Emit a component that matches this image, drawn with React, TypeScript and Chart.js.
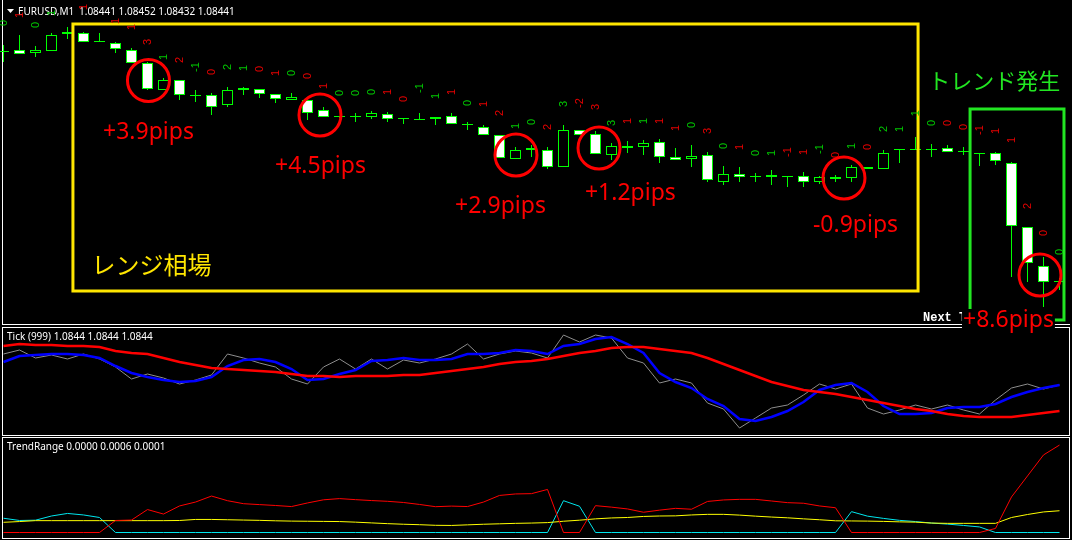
import React, { useEffect, useRef } from "react";
import { Chart, registerables } from "chart.js";

Chart.register(...registerables);

const W = 1072;
const H = 540;

// ---- main chart: EURUSD M1 candles, values in points above 1.08000 (1 point = 0.00001) ----
const BAR_INDEX = Array.from({ length: 67 }, (_, i) => i);
const OPEN = [556, 557, 555.5, 556.5, 565, 565.5, 561, 560.5, 557, 550.5, 537, 542, 534, 534.5, 529.5, 538, 537.5, 535, 532, 532, 527, 523.5, 523.5, 523.5, 525, 522.5, 522, 522.5, 524, 519.5, 518.5, 514.5, 502.5, 508, 507, 498.5, 517, 515, 504.5, 509, 508.5, 511, 503.5, 502.5, 504.5, 491, 495, 493.5, 493.5, 494, 494, 491, 493.5, 493, 498.5, 497.5, 507, 507, 507, 508, 506, 505, 505.5, 500.5, 468.5, 449, 441];
const HIGH = [559.5, 564.5, 559, 565.5, 568.5, 566, 565.5, 561, 558, 551, 543, 542, 537, 535.5, 538.5, 538.5, 537.5, 535, 535.5, 532, 528.5, 524, 525.5, 526.5, 526, 522.5, 525.5, 523.5, 525.5, 521, 519.5, 514.5, 508.5, 509.5, 508.5, 519.5, 517, 516.5, 510.5, 511.5, 512, 512.5, 508, 509.5, 506, 499, 498.5, 495.5, 497, 494, 496, 494, 494.5, 499.5, 498.5, 507, 507, 513.5, 510, 509.5, 508.5, 505, 506, 501, 468.5, 453.5, 443];
const LOW = [551, 555, 553.5, 556.5, 562.5, 561, 561, 555.5, 550.5, 537, 537, 532, 531, 524.5, 528.5, 534.5, 533, 530.5, 532, 522, 523.5, 523, 521, 522.5, 521, 520, 522, 519.5, 520, 517, 514.5, 503, 502.5, 503.5, 497.5, 498.5, 514.5, 505, 502, 505.5, 504.5, 500.5, 502, 498.5, 491, 489.5, 491, 491, 489.5, 488.5, 488.5, 490, 491, 491, 497.5, 497.5, 500.5, 507, 503.5, 506, 504.5, 499, 499.5, 443.5, 441, 428.5, 437];
const CLOSE = [556, 555, 557, 564.5, 566, 561, 561, 557.5, 550.5, 537.5, 542, 534.5, 534, 528.5, 537, 537, 535, 532.5, 533.5, 525.5, 523.5, 523.5, 523.5, 525.5, 522.5, 522.5, 522, 523.5, 520, 519.5, 514.5, 503, 507, 507, 498.5, 517, 514.5, 505, 509, 508, 510.5, 503.5, 502, 504, 492, 495, 493.5, 493.5, 494.5, 493.5, 491, 493.5, 492.5, 498.5, 497.5, 505.5, 507, 507, 507, 506, 506, 505, 501.5, 469, 450.5, 441, 441];

// rotated signal digits above the candles
const SIGNAL_TEXT = ["0", "1", "0", "1", "", "1", "", "1", "1", "3", "1", "2", "-1", "0", "2", "1", "0", "1", "0", "0", "1", "0", "0", "0", "1", "0", "-1", "1", "1", "0", "1", "2", "1", "0", "2", "3", "-2", "3", "3", "1", "1", "1", "1", "0", "3", "0", "1", "0", "1", "-1", "1", "-1", "0", "1", "0", "2", "1", "-1", "0", "0", "0", "-1", "1", "1", "2", "0", "0"];
const SIGNAL_UP = [1, 0, 1, 1, 0, 0, 0, 0, 0, 0, 1, 0, 1, 0, 1, 1, 0, 0, 1, 0, 0, 1, 1, 1, 0, 0, 1, 1, 0, 1, 0, 0, 1, 1, 0, 1, 0, 0, 1, 0, 1, 0, 0, 1, 0, 1, 0, 1, 1, 0, 0, 1, 0, 1, 0, 1, 1, 1, 1, 0, 0, 0, 0, 0, 0, 0, 1];
const SIGNAL_LEVEL = [570.5, 574.5, 569.5, 575.5, null, 578.5, null, 571.5, 568.5, 561, 553.5, 552, 548.5, 546, 548.5, 548, 547.5, 545.5, 545.5, 544, 539, 535.5, 535.5, 536, 536, 532.5, 538, 534, 536, 530.5, 530, 525.5, 519, 521, 518.5, 530, 530.5, 528.5, 520.5, 521.5, 521.5, 521.5, 518, 519.5, 516.5, 509, 508.5, 505.5, 505.5, 506, 506, 507.5, 504.5, 509, 508.5, 517.5, 517.5, 524.5, 520.5, 520.5, 518.5, 517, 516.5, 512, 479, 465.5, 456];

// trade results (circle marks and labels)
const RESULT_TEXT = ["+3.9pips", "+4.5pips", "+2.9pips", "+1.2pips", "-0.9pips", "+8.6pips"];
const CIRCLE_BAR = [9.06, 19.78, 32.03, 37.22, 52.53, 64.78];
const CIRCLE_LEVEL = [541.75, 524.5, 504.5, 508, 493, 444.5];
const RESULT_BAR = [6.22, 16.97, 28.22, 36.34, 50.59, 59.97];
const RESULT_LEVEL = [512.5, 495.5, 475.5, 482, 466, 418.5];

// zones
const RANGE_ZONE = [4.34, 57.16, 570, 436.5];
const TREND_ZONE = [60.41, 66.28, 527.5, 422];
const RANGE_TITLE = "レンジ相場";
const TREND_TITLE = "トレンド発生";
const RANGE_TITLE_AT = [5.5, 445];
const TREND_TITLE_AT = [57.8, 537.5];

// ---- Tick (999) window, points above 1.08000 ----
const TICK_PRICE = [486, 490, 482, 485, 481, 486, 481, 473, 461, 466, 462, 456, 460, 465, 486, 482, 477, 473, 461, 456, 473, 481, 471, 481, 471, 480, 477, 481, 486, 496, 481, 486, 489, 487, 482, 505, 498, 505, 502, 482, 477, 457, 461, 457, 437, 431, 412, 422, 432, 435, 445, 456, 451, 456, 432, 426, 430, 435, 431, 435, 430, 426, 440, 452, 456, 451, 455];
const TICK_FAST = [478, 484, 485, 486, 486, 485, 482, 474, 467, 463, 460, 458, 459, 463, 474, 480, 481, 478, 471, 460, 461, 466, 470, 479, 480, 482, 480, 480, 481, 486, 486, 487, 490, 489, 486, 494, 496, 501, 503, 496, 487, 467, 458, 452, 441, 434, 421, 419, 423, 429, 438, 450, 455, 457, 448, 434, 426, 426, 427, 432, 433, 433, 436, 443, 448, 452, 455];
const TICK_SLOW = [494, 496, 495, 495, 494, 494, 493, 489, 487, 486, 482, 478, 475, 472, 471, 470, 469, 468, 466, 464, 464, 463, 464, 464, 464, 465, 465, 467, 469, 471, 473, 476, 478, 479, 481, 484, 487, 489, 492, 493, 493, 491, 489, 487, 482, 476, 470, 464, 458, 454, 450, 448, 446, 443, 440, 437, 434, 431, 429, 426, 424, 423, 423, 423, 425, 427, 429];

// ---- TrendRange window, points (0.00001) ----
const TR_TREND = [0, 0, 0, 0, 0, 0, 0, 8, 8.3, 15.3, 12.3, 17.7, 20.3, 24.3, 21.2, 19.2, 18.6, 18, 17.3, 19.7, 21.8, 22.6, 21.9, 21.3, 20.8, 20, 18.7, 17.2, 17.6, 17.3, 20.3, 24.7, 25.7, 25.9, 28.7, 0, 0, 17.9, 16.9, 15.7, 13.5, 14.9, 16.1, 15.5, 20.7, 21.7, 22.1, 22.1, 21, 19.9, 19.5, 17.7, 16.5, 0, 0, 0, 0, 0, 0, 0, 0, 0, 2.7, 23.7, 37.7, 51.7, 58.3];
const TR_RANGE = [9.5, 8, 8.2, 11, 12.7, 11.7, 10, 0, 0, 0, 0, 0, 0, 0, 0, 0, 0, 0, 0, 0, 0, 0, 0, 0, 0, 0, 0, 0, 0, 0, 0, 0, 0, 0, 0, 21.2, 17.5, 0, 0, 0, 0, 0, 0, 0, 0, 0, 0, 0, 0, 0, 0, 0, 0, 13.9, 10.9, 9.4, 8.1, 7.3, 6.3, 5.6, 4.7, 3.7, 0, 0, 0, 0, 0];
const TR_SIGNAL = [6.8, 7.3, 7.9, 7.9, 7.9, 7.9, 7.9, 7.9, 7.9, 7.9, 7.9, 8, 8.7, 8.7, 8.5, 8.3, 8.1, 7.8, 7.6, 7.5, 7.4, 7.3, 6.9, 6.4, 5.9, 5.5, 5.2, 4.8, 4.7, 5.1, 5.5, 5.8, 6.1, 6.3, 6.6, 7.5, 8.2, 9.1, 9.7, 10, 10.7, 11, 11.1, 11.7, 12.1, 12.1, 11.6, 10.9, 10.3, 9.8, 9.1, 8.5, 7.8, 7.7, 7.6, 7.4, 7.1, 6.9, 6.3, 6.1, 6.1, 6.1, 6.1, 10, 12, 13.7, 14.5];

const HEADER_SYMBOL = "EURUSD,M1";
const HEADER_QUOTES = "1.08441 1.08452 1.08432 1.08441";
const TICK_TITLE = "Tick (999) 1.0844 1.0844 1.0844";
const TR_TITLE = "TrendRange 0.0000 0.0006 0.0001";

const X_MIN = -0.21875;
const X_MAX = 66.78125;

const GREEN = "#00ff00";
const RED = "#ff0000";

function xAxis() {
  return { type: "linear", min: X_MIN, max: X_MAX, display: false, offset: false, grid: { display: false } } as any;
}

function pts(arr: number[]) {
  return arr.map((v, i) => ({ x: BAR_INDEX[i], y: v }));
}

export default function App() {
  const mainRef = useRef<HTMLCanvasElement>(null);
  const tickRef = useRef<HTMLCanvasElement>(null);
  const trRef = useRef<HTMLCanvasElement>(null);

  useEffect(() => {
    const charts: Chart[] = [];

    // ---------- main candle chart ----------
    const bodies = BAR_INDEX.map((i) => {
      const o = OPEN[i];
      const c = CLOSE[i];
      if (Math.abs(o - c) < 0.5) return { x: i, y: [o, o + 0.5] };
      return { x: i, y: [Math.min(o, c), Math.max(o, c)] };
    });
    const bodyFill = BAR_INDEX.map((i) =>
      Math.abs(OPEN[i] - CLOSE[i]) < 0.5 ? GREEN : CLOSE[i] < OPEN[i] ? "#ffffff" : "#000000"
    );
    const wicks = BAR_INDEX.map((i) => ({ x: i, y: [LOW[i], HIGH[i]] }));

    const overlay = {
      id: "mainOverlay",
      afterDatasetsDraw(chart: any) {
        const { ctx } = chart;
        const xs = chart.scales.x;
        const ys = chart.scales.y;
        const px = (v: number) => xs.getPixelForValue(v);
        const py = (v: number) => ys.getPixelForValue(v);
        ctx.save();

        // header
        ctx.fillStyle = "#ffffff";
        ctx.beginPath();
        ctx.moveTo(7, 9);
        ctx.lineTo(14, 9);
        ctx.lineTo(10.5, 13);
        ctx.closePath();
        ctx.fill();
        ctx.font = '10px "Noto Sans"';
        ctx.textBaseline = "alphabetic";
        ctx.textAlign = "left";
        ctx.fillText(HEADER_SYMBOL, 18, 15);
        ctx.fillText(HEADER_QUOTES, 79, 15);

        // zones
        ctx.lineWidth = 3;
        ctx.strokeStyle = "#ffe600";
        ctx.strokeRect(px(RANGE_ZONE[0]), py(RANGE_ZONE[2]), px(RANGE_ZONE[1]) - px(RANGE_ZONE[0]), py(RANGE_ZONE[3]) - py(RANGE_ZONE[2]));
        ctx.strokeStyle = "#22e622";
        ctx.strokeRect(px(TREND_ZONE[0]), py(TREND_ZONE[2]), px(TREND_ZONE[1]) - px(TREND_ZONE[0]), py(TREND_ZONE[3]) - py(TREND_ZONE[2]));

        // signal digits
        ctx.font = '11px "Liberation Sans"';
        ctx.textAlign = "center";
        ctx.textBaseline = "middle";
        BAR_INDEX.forEach((i) => {
          const t = SIGNAL_TEXT[i];
          const lv = SIGNAL_LEVEL[i];
          if (!t || lv == null) return;
          ctx.save();
          ctx.translate(px(i), py(lv as number));
          ctx.rotate(-Math.PI / 2);
          ctx.fillStyle = SIGNAL_UP[i] ? "#00c800" : "#e60000";
          ctx.fillText(t, 0, 0);
          ctx.restore();
        });

        // circles
        ctx.strokeStyle = RED;
        ctx.lineWidth = 3;
        CIRCLE_BAR.forEach((b, j) => {
          ctx.beginPath();
          ctx.arc(px(b), py(CIRCLE_LEVEL[j]), 21, 0, Math.PI * 2);
          ctx.stroke();
        });

        // "Next" marker
        ctx.font = 'bold 12px "Liberation Mono"';
        ctx.textAlign = "left";
        ctx.textBaseline = "alphabetic";
        ctx.fillStyle = "#ffffff";
        ctx.fillText("Next Tick", 923, 321);

        // result labels
        ctx.font = '23px "Noto Sans"';
        RESULT_TEXT.forEach((t, j) => {
          const x0 = px(RESULT_BAR[j]);
          const y0 = py(RESULT_LEVEL[j]);
          if (j === RESULT_TEXT.length - 1) {
            const w = ctx.measureText(t).width;
            ctx.fillStyle = "#000000";
            ctx.fillRect(x0 - 1, y0 - 18, w + 2, 23);
          }
          ctx.fillStyle = RED;
          ctx.fillText(t, x0, y0);
        });

        // zone titles
        ctx.font = '24px "Noto Sans CJK JP"';
        ctx.fillStyle = "#ffe600";
        ctx.fillText(RANGE_TITLE, px(RANGE_TITLE_AT[0]), py(RANGE_TITLE_AT[1]));
        ctx.font = '22px "Noto Sans CJK JP"';
        ctx.fillStyle = "#22e622";
        ctx.fillText(TREND_TITLE, px(TREND_TITLE_AT[0]), py(TREND_TITLE_AT[1]));

        ctx.restore();
      },
    };

    if (mainRef.current) {
      charts.push(
        new Chart(mainRef.current, {
          type: "bar",
          data: {
            datasets: [
              {
                data: bodies as any,
                backgroundColor: bodyFill,
                borderColor: GREEN,
                borderWidth: 1,
                borderSkipped: false,
                grouped: false,
                maxBarThickness: 11,
                order: 0,
              } as any,
              {
                data: wicks as any,
                backgroundColor: GREEN,
                borderWidth: 0,
                grouped: false,
                maxBarThickness: 1,
                order: 1,
              } as any,
            ],
          },
          options: {
            animation: false,
            responsive: false,
            devicePixelRatio: 1,
            events: [],
            layout: { autoPadding: false, padding: { top: 0, left: 0, right: 0, bottom: 215 } },
            plugins: { legend: { display: false }, tooltip: { enabled: false } },
            scales: {
              x: xAxis(),
              y: { type: "linear", min: 419.5, max: 582, display: false, grid: { display: false } },
            },
          } as any,
          plugins: [overlay as any],
        })
      );
    }

    // ---------- Tick window ----------
    const title = (text: string, y: number) => ({
      id: "title" + y,
      afterDraw(chart: any) {
        const { ctx } = chart;
        ctx.save();
        ctx.font = '10px "Noto Sans"';
        ctx.fillStyle = "#ffffff";
        ctx.textAlign = "left";
        ctx.textBaseline = "alphabetic";
        ctx.fillText(text, 7, y);
        ctx.restore();
      },
    });

    if (tickRef.current) {
      charts.push(
        new Chart(tickRef.current, {
          type: "line",
          data: {
            datasets: [
              { data: pts(TICK_SLOW), borderColor: RED, borderWidth: 2.5, pointRadius: 0, tension: 0 },
              { data: pts(TICK_FAST), borderColor: "#0000ff", borderWidth: 2.5, pointRadius: 0, tension: 0 },
              { data: pts(TICK_PRICE), borderColor: "#8c8c8c", borderWidth: 1, pointRadius: 0, tension: 0 },
            ],
          },
          options: {
            animation: false,
            responsive: false,
            devicePixelRatio: 1,
            events: [],
            layout: { autoPadding: false, padding: { top: 329, left: 0, right: 0, bottom: 105 } },
            plugins: { legend: { display: false }, tooltip: { enabled: false } },
            scales: {
              x: xAxis(),
              y: { type: "linear", min: 405, max: 511, display: false, grid: { display: false } },
            },
          } as any,
          plugins: [title(TICK_TITLE, 340) as any],
        })
      );
    }

    // ---------- TrendRange window ----------
    if (trRef.current) {
      charts.push(
        new Chart(trRef.current, {
          type: "line",
          data: {
            datasets: [
              { data: pts(TR_TREND), borderColor: RED, borderWidth: 1, pointRadius: 0, tension: 0 },
              { data: pts(TR_SIGNAL), borderColor: "#ffff00", borderWidth: 1, pointRadius: 0, tension: 0 },
              { data: pts(TR_RANGE), borderColor: "#00e6ee", borderWidth: 1, pointRadius: 0, tension: 0 },
            ],
          },
          options: {
            animation: false,
            responsive: false,
            devicePixelRatio: 1,
            events: [],
            layout: { autoPadding: false, padding: { top: 439, left: 0, right: 0, bottom: 3 } },
            plugins: { legend: { display: false }, tooltip: { enabled: false } },
            scales: {
              x: xAxis(),
              y: { type: "linear", min: -3, max: 62.333, display: false, grid: { display: false } },
            },
          } as any,
          plugins: [title(TR_TITLE, 450) as any],
        })
      );
    }

    return () => charts.forEach((c) => c.destroy());
  }, []);

  const abs: React.CSSProperties = { position: "absolute", left: 0, top: 0 };
  const line = "1px solid #ffffff";
  return (
    <div style={{ position: "fixed", left: 0, top: 0, width: W, height: H, background: "#000", overflow: "hidden" }}>
      <div style={{ position: "absolute", left: 2, top: -1, width: 1068, height: 326, boxSizing: "border-box", borderLeft: line, borderBottom: line }} />
      <div style={{ position: "absolute", left: 2, top: 327, width: 1068, height: 109, boxSizing: "border-box", border: line }} />
      <div style={{ position: "absolute", left: 2, top: 437, width: 1068, height: 102, boxSizing: "border-box", border: line }} />
      <canvas ref={trRef} width={W} height={H} style={abs} />
      <canvas ref={tickRef} width={W} height={H} style={abs} />
      <canvas ref={mainRef} width={W} height={H} style={abs} />
    </div>
  );
}
